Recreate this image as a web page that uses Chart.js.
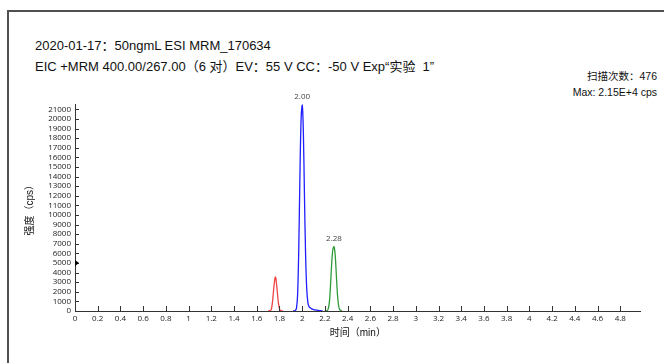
<!DOCTYPE html>
<html>
<head>
<meta charset="utf-8">
<script src="https://cdn.jsdelivr.net/npm/chart.js@4"></script>
<style>
  html, body { margin: 0; padding: 0; background: #fff; overflow: hidden; }
  #wrap { position: relative; width: 664px; height: 363px; }
  #frame { position: absolute; left: 7px; top: 10px; right: 0; bottom: 0;
           border-top: 2px solid #505050; border-left: 2px solid #505050; }
  .txt { position: absolute; font-family: "Liberation Sans", Arial, "Noto Sans CJK SC", sans-serif;
         color: #111; white-space: nowrap; line-height: 1; }
  #title1 { left: 35px; top: 39px; font-size: 13px; }
  #title2 { left: 35px; top: 60px; font-size: 13px; }
  #scans  { right: 7px; top: 71px; font-size: 10.5px; text-align: right; }
  #maxval { right: 7px; top: 87px; font-size: 10.5px; text-align: right; }
  canvas { position: absolute; left: 0; top: 0; }
</style>
</head>
<body>
<div id="wrap">
  <div id="frame"></div>
  <div class="txt" id="title1">2020-01-17：50ngmL ESI MRM_170634</div>
  <div class="txt" id="title2">EIC +MRM 400.00/267.00（6 对）EV：55 V CC：-50 V Exp“实验&nbsp;&nbsp;1”</div>
  <div class="txt" id="scans">扫描次数：476</div>
  <div class="txt" id="maxval">Max: 2.15E+4 cps</div>
  <canvas id="chrom" width="664" height="363"></canvas>
</div>
<script>
/* ── Trace data (time in min, intensity in cps) ── */
const redTime   = [1.70, 1.72, 1.73, 1.74, 1.75, 1.76, 1.765, 1.77, 1.78, 1.79, 1.80, 1.81, 1.83];
const redCps    = [0,    40,   250,  1100, 2400, 3400, 3550,  3300, 2100, 900,  250,  60,   0];

const blueTime  = [1.92, 1.94, 1.95, 1.96, 1.97, 1.98, 1.99, 2.00, 2.01, 2.02, 2.03, 2.04, 2.05, 2.06, 2.08, 2.10, 2.13, 2.16, 2.18];
const blueCps   = [0,    60,   300,  1800, 6500, 14000, 19800, 21500, 18800, 12000, 5800, 2300, 900, 450, 250, 150, 80, 30, 0];

const greenTime = [2.20, 2.22, 2.23, 2.24, 2.25, 2.26, 2.27, 2.28, 2.29, 2.30, 2.31, 2.32, 2.33, 2.35];
const greenCps  = [0,    50,   250,  1000, 2800, 5000, 6400, 6700, 5900, 3900, 1800, 600,  150,  0];

/* ── Peak annotations ── */
const peakTimes  = [2.00, 2.28];
const peakCps    = [21500, 6700];
const peakLabels = ['2.00', '2.28'];

/* ── Axis ranges and tick values ── */
const X_MIN = 0, X_MAX = 4.98;
const Y_MIN = 0, Y_MAX = 21500;
const xTickValues = [0, 0.2, 0.4, 0.6, 0.8, 1, 1.2, 1.4, 1.6, 1.8, 2, 2.2, 2.4, 2.6, 2.8,
                     3, 3.2, 3.4, 3.6, 3.8, 4, 4.2, 4.4, 4.6, 4.8];
const yTickValues = [0, 1000, 2000, 3000, 4000, 5000, 6000, 7000, 8000, 9000, 10000,
                     11000, 12000, 13000, 14000, 15000, 16000, 17000, 18000, 19000, 20000, 21000];

const C_AXIS = '#333';
const TICK_FONT = { family: 'Open Sans, sans-serif', size: 8 };
const TITLE_FONT = { family: 'Liberation Sans, Noto Sans CJK SC, sans-serif', size: 10 };

function pts(ts, vs) { return ts.map((t, i) => ({ x: t, y: vs[i] })); }

function trace(label, ts, vs, color) {
  return {
    label, data: pts(ts, vs),
    borderColor: color, borderWidth: 1.3,
    pointRadius: 0, tension: 0.3, fill: false,
  };
}

/* inward tick marks + peak labels + marker */
const decor = {
  id: 'decor',
  afterDraw(chart) {
    const { ctx, scales: { x, y } } = chart;
    ctx.save();
    ctx.strokeStyle = C_AXIS;
    ctx.lineWidth = 1;
    ctx.beginPath();
    x.ticks.forEach(t => {
      const px = Math.round(x.getPixelForValue(t.value)) + 0.5;
      ctx.moveTo(px, y.bottom);
      ctx.lineTo(px, y.bottom - 5);
    });
    y.ticks.forEach(t => {
      const py = Math.round(y.getPixelForValue(t.value)) + 0.5;
      ctx.moveTo(x.left, py);
      ctx.lineTo(x.left + 4, py);
    });
    ctx.stroke();

    // small marker on the y axis at 5000
    const my = y.getPixelForValue(5000);
    ctx.fillStyle = '#000';
    ctx.beginPath();
    ctx.moveTo(x.left, my - 3);
    ctx.lineTo(x.left + 4, my);
    ctx.lineTo(x.left, my + 3);
    ctx.closePath();
    ctx.fill();

    ctx.font = '8px "Open Sans", sans-serif';
    ctx.fillStyle = '#444';
    ctx.textAlign = 'center';
    ctx.textBaseline = 'middle';
    peakLabels.forEach((lbl, i) => {
      ctx.fillText(lbl, x.getPixelForValue(peakTimes[i]), y.getPixelForValue(peakCps[i]) - 7.5);
    });
    ctx.restore();
  },
};

new Chart(document.getElementById('chrom'), {
  type: 'line',
  data: {
    datasets: [
      trace('red', redTime, redCps, '#f04545'),
      trace('blue', blueTime, blueCps, '#1f1fff'),
      trace('green', greenTime, greenCps, '#2f9a3a'),
    ],
  },
  options: {
    responsive: false,
    animation: false,
    layout: { padding: { top: 104.5, right: 23.3, bottom: 0, left: 0 } },
    plugins: { legend: { display: false }, tooltip: { enabled: false } },
    scales: {
      x: {
        type: 'linear', min: X_MIN, max: X_MAX,
        afterBuildTicks: s => { s.ticks = xTickValues.map(v => ({ value: v })); },
        ticks: {
          maxRotation: 0, autoSkip: false,
          color: '#222', font: TICK_FONT, padding: 3,
          callback: v => String(+v.toFixed(1)),
        },
        grid: { drawOnChartArea: false, drawTicks: false },
        border: { display: true, color: C_AXIS, width: 1 },
        title: { display: true, text: '时间（min）', color: '#111', font: TITLE_FONT, padding: { top: 0, bottom: 24 } },
        afterFit: s => { s.height = 52; },
      },
      y: {
        type: 'linear', min: Y_MIN, max: Y_MAX,
        afterBuildTicks: s => { s.ticks = yTickValues.map(v => ({ value: v })); },
        ticks: {
          autoSkip: false,
          color: '#222', font: TICK_FONT, padding: 4,
          callback: v => String(Math.round(v)),
        },
        grid: { drawOnChartArea: false, drawTicks: false },
        border: { display: true, color: C_AXIS, width: 1 },
        title: { display: true, text: '强度（cps）', color: '#111', font: TITLE_FONT, padding: { top: 24, bottom: 0 } },
        afterFit: s => { s.width = 75; },
      },
    },
  },
  plugins: [decor],
});
</script>
</body>
</html>
